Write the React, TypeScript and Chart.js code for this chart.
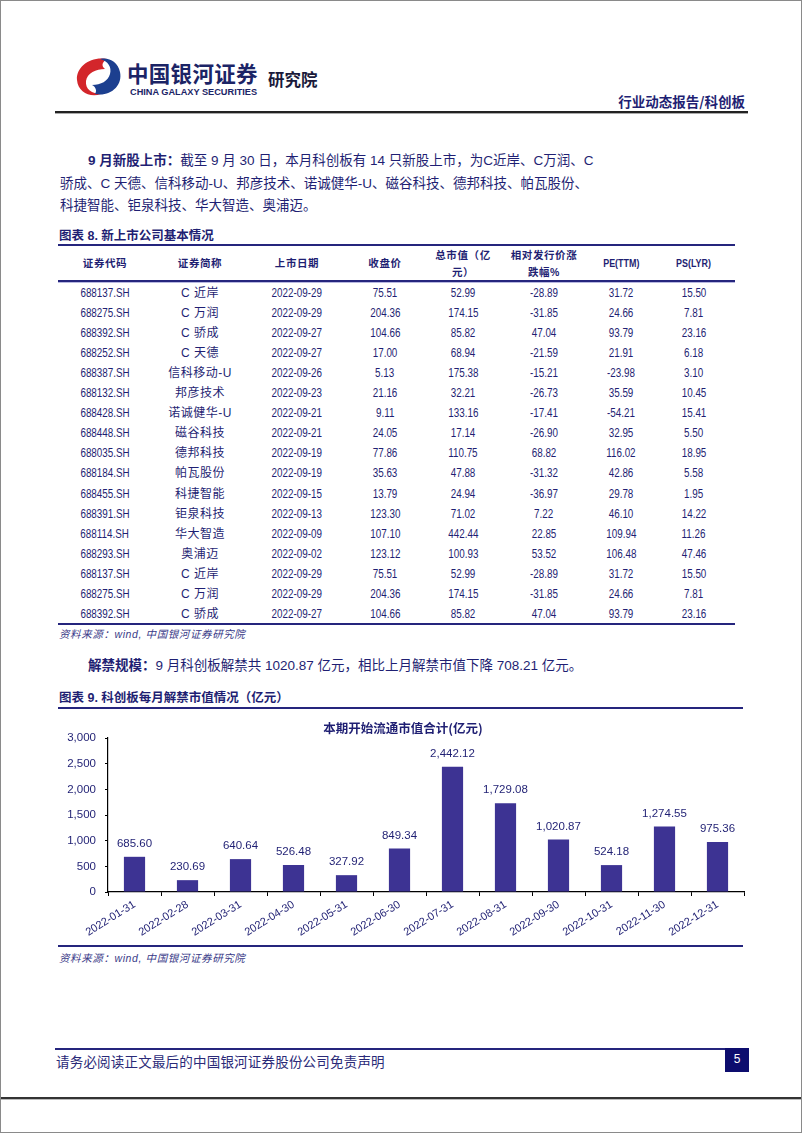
import React, { useEffect, useRef } from 'react';
import { Chart, registerables } from 'chart.js';

Chart.register(...registerables);

// ---------- chart data ----------
const months = [
  '2022-01-31', '2022-02-28', '2022-03-31', '2022-04-30', '2022-05-31', '2022-06-30',
  '2022-07-31', '2022-08-31', '2022-09-30', '2022-10-31', '2022-11-30', '2022-12-31',
];
const unlockValues = [685.6, 230.69, 640.64, 526.48, 327.92, 849.34, 2442.12, 1729.08, 1020.87, 524.18, 1274.55, 975.36];
const yMin = 0;
const yMax = 3000;
const yStep = 500;
const chartTitle = '本期开始流通市值合计(亿元)';

// ---------- table data ----------
const tableHeaders = [
  ['证券代码'], ['证券简称'], ['上市日期'], ['收盘价'], ['总市值（亿', '元）'], ['相对发行价涨', '跌幅%'], ['PE(TTM)'], ['PS(LYR)'],
];
const codes = ['688137.SH', '688275.SH', '688392.SH', '688252.SH', '688387.SH', '688132.SH', '688428.SH', '688448.SH', '688035.SH', '688184.SH', '688455.SH', '688391.SH', '688114.SH', '688293.SH', '688137.SH', '688275.SH', '688392.SH'];
const names = ['C 近岸', 'C 万润', 'C 骄成', 'C 天德', '信科移动-U', '邦彦技术', '诺诚健华-U', '磁谷科技', '德邦科技', '帕瓦股份', '科捷智能', '钜泉科技', '华大智造', '奥浦迈', 'C 近岸', 'C 万润', 'C 骄成'];
const listDates = ['2022-09-29', '2022-09-29', '2022-09-27', '2022-09-27', '2022-09-26', '2022-09-23', '2022-09-21', '2022-09-21', '2022-09-19', '2022-09-19', '2022-09-15', '2022-09-13', '2022-09-09', '2022-09-02', '2022-09-29', '2022-09-29', '2022-09-27'];
const closePrices = ['75.51', '204.36', '104.66', '17.00', '5.13', '21.16', '9.11', '24.05', '77.86', '35.63', '13.79', '123.30', '107.10', '123.12', '75.51', '204.36', '104.66'];
const marketCaps = ['52.99', '174.15', '85.82', '68.94', '175.38', '32.21', '133.16', '17.14', '110.75', '47.88', '24.94', '71.02', '442.44', '100.93', '52.99', '174.15', '85.82'];
const changePct = ['-28.89', '-31.85', '47.04', '-21.59', '-15.21', '-26.73', '-17.41', '-26.90', '68.82', '-31.32', '-36.97', '7.22', '22.85', '53.52', '-28.89', '-31.85', '47.04'];
const peTTM = ['31.72', '24.66', '93.79', '21.91', '-23.98', '35.59', '-54.21', '32.95', '116.02', '42.86', '29.78', '46.10', '109.94', '106.48', '31.72', '24.66', '93.79'];
const psLYR = ['15.50', '7.81', '23.16', '6.18', '3.10', '10.45', '15.41', '5.50', '18.95', '5.58', '1.95', '14.22', '11.26', '47.46', '15.50', '7.81', '23.16'];

// ---------- styles ----------
const NAVY = '#1f1f73';
const LINE = '#25257d';
const BAR = '#3d3393';
const CJK = '"Noto Sans CJK SC", sans-serif';
const MIX = '"Liberation Sans", "Noto Sans CJK SC", sans-serif';
const NUM = '"Liberation Sans", Arial, sans-serif';

const colCenters = [105, 200, 297, 385, 463, 544, 621, 694];

function Txt(props: { x: number; y: number; size: number; children: any; bold?: boolean; italic?: boolean; color?: string; family?: string; ls?: number; align?: 'left' | 'center' | 'right'; w?: number; lhf?: number }) {
  const { x, y, size, children, bold, italic, color, family, ls, align, w, lhf } = props;
  const lh = Math.round(size * (lhf ?? 1.4));
  const width = w ?? 0;
  let left = x;
  if (align === 'center') left = x - width / 2;
  if (align === 'right') left = x - width;
  return (
    <div
      style={{
        position: 'absolute',
        left,
        top: y - lh / 2,
        width: width || undefined,
        height: lh,
        lineHeight: lh + 'px',
        fontSize: size,
        fontWeight: bold ? 700 : 400,
        fontStyle: italic ? 'italic' : 'normal',
        color: color ?? NAVY,
        fontFamily: family ?? MIX,
        letterSpacing: ls ?? 0,
        whiteSpace: 'nowrap',
        textAlign: align ?? 'left',
      }}
    >
      {children}
    </div>
  );
}

function Narrow(props: { children: any; k?: number }) {
  return <span style={{ display: 'inline-block', transform: `scaleX(${props.k ?? 0.82})`, transformOrigin: 'center' }}>{props.children}</span>;
}

function HLine(props: { x1: number; x2: number; y: number; h: number; color: string }) {
  return <div style={{ position: 'absolute', left: props.x1, top: props.y, width: props.x2 - props.x1, height: props.h, background: props.color }} />;
}

function UnlockChart() {
  const ref = useRef<HTMLCanvasElement>(null);
  useEffect(() => {
    if (!ref.current) return;
    const fmt = (v: number) => v.toLocaleString('en-US', { minimumFractionDigits: 2, maximumFractionDigits: 2 });
    const labelPlugin = {
      id: 'barLabels',
      afterDatasetsDraw(chart: any) {
        const ctx = chart.ctx;
        const meta = chart.getDatasetMeta(0);
        ctx.save();
        ctx.fillStyle = NAVY;
        ctx.textAlign = 'center';
        ctx.textBaseline = 'middle';
        ctx.font = `11.5px ${NUM}`;
        meta.data.forEach((bar: any, i: number) => {
          ctx.fillText(fmt(unlockValues[i]), bar.x, bar.y - 13);
        });
        ctx.font = `bold 12.5px ${CJK}`;
        ctx.fillText(chartTitle, chart.width / 2, 16);
        ctx.restore();
      },
    };
    const chart = new Chart(ref.current, {
      type: 'bar',
      data: {
        labels: months,
        datasets: [{ data: unlockValues, backgroundColor: BAR, barPercentage: 0.4, categoryPercentage: 1 }],
      },
      options: {
        animation: false,
        responsive: false,
        maintainAspectRatio: false,
        layout: { padding: { top: 26, right: 4, left: 0, bottom: 0 } },
        plugins: { legend: { display: false }, tooltip: { enabled: false }, title: { display: false } },
        scales: {
          x: {
            grid: { display: true, drawOnChartArea: false, drawTicks: true, tickLength: 4, color: '#000', offset: true },
            border: { color: '#000', width: 1.2 },
            ticks: { minRotation: 32, maxRotation: 32, autoSkip: false, color: NAVY, font: { size: 11, family: NUM }, padding: 2 },
            afterFit: (s: any) => { s.height = 52; },
          },
          y: {
            min: yMin,
            max: yMax,
            ticks: { stepSize: yStep, color: NAVY, font: { size: 11.5, family: NUM }, padding: 9 },
            grid: { display: true, drawOnChartArea: false, drawTicks: true, tickLength: 3, color: '#000' },
            border: { color: '#000', width: 1.2 },
            afterFit: (s: any) => { s.width = 50; },
          },
        },
      },
      plugins: [labelPlugin],
    } as any);
    return () => chart.destroy();
  }, []);
  return <canvas ref={ref} width={690} height={232} style={{ position: 'absolute', left: 58, top: 712, width: 690, height: 232 }} />;
}

function Logo() {
  return (
    <svg style={{ position: 'absolute', left: 74, top: 56 }} width={50} height={42} viewBox="0 0 50 42">
      <path d="M33,3 C16,0 2,11 3,24 C4,36 16,42 27,38 C18,38 11,33 12,25 C13,17 22,13 31,13 C27,10 28,6 33,3 Z" fill="#d3262b" />
      <path d="M21,38 C36,41 49,30 46,16 C44,6 35,1 26,3 C34,5 38,11 36,18 C34,25 27,29 18,29 C22,31 23,35 21,38 Z" fill="#1c3f8f" />
    </svg>
  );
}

export default function App() {
  const rowY = (i: number) => 293 + i * 20.1;
  const cols = [codes, names, listDates, closePrices, marketCaps, changePct, peTTM, psLYR];
  return (
    <div style={{ position: 'absolute', left: 0, top: 0, width: 802, height: 1133, background: '#fff', overflow: 'hidden', boxSizing: 'border-box', border: '1px solid #8a8a8a' }}>
      <div style={{ position: 'absolute', left: -1, top: -1, width: 802, height: 1133 }}>
        {/* header */}
        <Logo />
        <Txt x={127} y={73} size={21.5} bold family={CJK} color="#1b2466" ls={0.3} lhf={1.1}>中国银河证券</Txt>
        <Txt x={130} y={92} size={9.2} bold family={NUM} color="#1b2466" lhf={1.1}>CHINA GALAXY SECURITIES</Txt>
        <Txt x={268} y={79} size={16.5} bold family={CJK} color="#1a1a3a" lhf={1.1}>研究院</Txt>
        <Txt x={745} y={101} size={13.5} bold family={CJK} align="right" w={200}>行业动态报告/科创板</Txt>
        <HLine x1={55} x2={748} y={111} h={2} color="#222" />
        <HLine x1={55} x2={748} y={113} h={1} color="#aaa" />

        {/* paragraph */}
        <Txt x={88} y={160} size={13.5} family={MIX}>
          <b>9 月新股上市：</b>截至 9 月 30 日，本月科创板有 14 只新股上市，为C近岸、C万润、C
        </Txt>
        <Txt x={60} y={183} size={13.5} family={MIX}>骄成、C 天德、信科移动-U、邦彦技术、诺诚健华-U、磁谷科技、德邦科技、帕瓦股份、</Txt>
        <Txt x={60} y={205} size={13.5} family={MIX}>科捷智能、钜泉科技、华大智造、奥浦迈。</Txt>

        {/* table */}
        <Txt x={59} y={236} size={12.5} bold family={MIX}>图表 8. 新上市公司基本情况</Txt>
        <HLine x1={58} x2={735} y={244} h={2} color={LINE} />
        {tableHeaders.map((h, c) =>
          h.length === 1 ? (
            <Txt key={'h' + c} x={colCenters[c]} y={263} size={10.5} bold align="center" w={110} ls={c >= 6 ? 0 : 0.6}>
              {c >= 6 ? <Narrow k={0.85}>{h[0]}</Narrow> : h[0]}
            </Txt>
          ) : (
            <React.Fragment key={'h' + c}>
              <Txt x={colCenters[c]} y={255} size={10.5} bold align="center" w={110} ls={0.6}>{h[0]}</Txt>
              <Txt x={colCenters[c]} y={272} size={10.5} bold align="center" w={110} ls={0.6}>{h[1]}</Txt>
            </React.Fragment>
          )
        )}
        <HLine x1={58} x2={735} y={280} h={2} color={LINE} />
        <HLine x1={58} x2={735} y={282} h={1} color="#b8b8e0" />
        {codes.map((_, r) =>
          cols.map((col, c) => (
            <Txt key={r + '-' + c} x={colCenters[c]} y={rowY(r)} size={12} align="center" w={110} family={c === 1 ? MIX : NUM} ls={c === 1 ? 0.5 : 0}>
              {c === 1 ? col[r] : <Narrow>{col[r]}</Narrow>}
            </Txt>
          ))
        )}
        <HLine x1={58} x2={735} y={623} h={2} color={LINE} />
        <Txt x={59} y={634} size={10.5} italic family={MIX} ls={0.6} color="#3a3a88">资料来源：wind, 中国银河证券研究院</Txt>

        <Txt x={88} y={665} size={13.5} family={MIX}>
          <b>解禁规模：</b>9 月科创板解禁共 1020.87 亿元，相比上月解禁市值下降 708.21 亿元。
        </Txt>

        {/* chart */}
        <Txt x={59} y={698} size={12.5} bold family={MIX}>图表 9. 科创板每月解禁市值情况（亿元）</Txt>
        <HLine x1={58} x2={743} y={707} h={2} color={LINE} />
        <UnlockChart />
        <HLine x1={58} x2={743} y={945} h={2} color={LINE} />
        <Txt x={59} y={958} size={10.5} italic family={MIX} ls={0.6} color="#3a3a88">资料来源：wind, 中国银河证券研究院</Txt>

        {/* footer */}
        <HLine x1={55} x2={727} y={1048} h={2} color={LINE} />
        <Txt x={56} y={1061} size={13.5} family={CJK} ls={0.2} color="#2a2a78">请务必阅读正文最后的中国银河证券股份公司免责声明</Txt>
        <div style={{ position: 'absolute', left: 725, top: 1048, width: 24, height: 24, background: '#0d0d6e', color: '#fff', fontFamily: NUM, fontSize: 12, lineHeight: '22px', textAlign: 'center' }}>5</div>
        <HLine x1={0} x2={802} y={1097} h={2} color="#333" />
        <HLine x1={0} x2={802} y={1099} h={1} color="#bbb" />
      </div>
    </div>
  );
}
